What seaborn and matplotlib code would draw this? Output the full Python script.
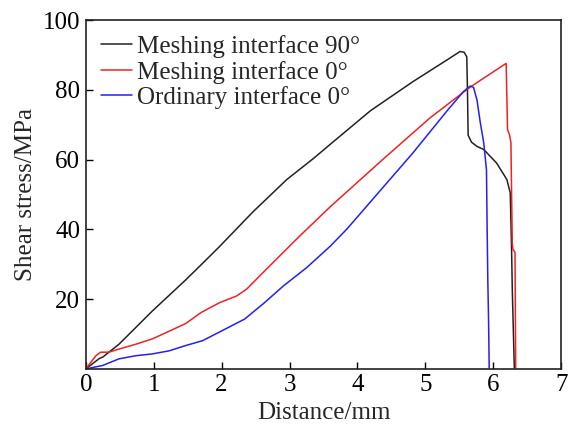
import matplotlib
matplotlib.use("Agg")
import matplotlib.pyplot as plt
import numpy as np
import pandas as pd
import seaborn as sns

mesh90_x = [0.0, 0.1, 0.2, 0.25, 0.49, 0.98, 1.47, 1.68, 1.96, 2.46, 2.96, 3.35, 3.6,
            4.19, 4.82, 5.32, 5.51, 5.57, 5.61, 5.62, 5.63, 5.68, 5.76, 5.86, 6.05,
            6.2, 6.25, 6.27, 6.28, 6.3, 6.31]
mesh90_y = [0.0, 1.5, 3.0, 3.4, 7.1, 16.6, 25.5, 29.5, 34.9, 45.0, 54.3, 60.3, 64.4,
            74.0, 82.4, 88.6, 91.0, 90.8, 89.5, 80.0, 67.0, 65.0, 63.8, 62.9, 59.0,
            54.3, 50.5, 34.0, 22.9, 7.6, 0.3]

mesh0_x = [0.0, 0.15, 0.22, 0.34, 0.49, 0.74, 0.98, 1.47, 1.7, 1.97, 2.22, 2.37, 2.66,
           3.15, 3.6, 4.33, 5.07, 5.66, 6.19, 6.2, 6.21, 6.24, 6.26, 6.27, 6.28, 6.29,
           6.32, 6.33]
mesh0_y = [0.0, 3.8, 4.8, 4.8, 5.7, 7.1, 8.6, 13.0, 16.2, 19.0, 20.9, 22.9, 28.6,
           38.1, 46.5, 59.3, 72.0, 80.8, 87.6, 78.0, 68.6, 67.1, 64.8, 50.0, 36.0, 34.3,
           33.4, 0.3]

ord0_x = [0.0, 0.25, 0.49, 0.74, 0.98, 1.23, 1.47, 1.72, 1.96, 2.21, 2.34, 2.62, 2.91,
          3.25, 3.6, 3.84, 4.33, 4.82, 5.07, 5.32, 5.56, 5.66, 5.71, 5.76, 5.81, 5.86,
          5.9, 5.91, 5.92, 5.93, 5.94]
ord0_y = [0.0, 1.0, 2.9, 3.8, 4.3, 5.2, 6.7, 8.1, 10.5, 13.0, 14.3, 18.8, 23.8,
          29.0, 35.2, 40.0, 51.0, 62.0, 68.0, 74.0, 79.5, 81.1, 80.7, 77.1, 70.5, 64.8,
          57.1, 40.0, 25.0, 15.0, 0.3]

labels = ["Meshing interface 90\u00b0", "Meshing interface 0\u00b0", "Ordinary interface 0\u00b0"]
colors = ["#222222", "#ee2222", "#2222ee"]

frames = []
for lab, xs, ys in zip(labels, [mesh90_x, mesh0_x, ord0_x], [mesh90_y, mesh0_y, ord0_y]):
    d = pd.DataFrame({"x": xs, "y": ys})
    d["curve"] = lab
    frames.append(d)
data = pd.concat(frames, ignore_index=True)

sns.set_style("ticks")
plt.rcParams["font.family"] = ["Liberation Serif", "DejaVu Serif"]

fig = plt.figure(figsize=(5.68, 4.28), dpi=100)
ax = fig.add_axes([0.151, 0.138, 0.837, 0.815])

sns.lineplot(data=data, x="x", y="y", hue="curve", palette=colors, sort=False,
             estimator=None, units="curve", linewidth=1.1, ax=ax)

ax.set_xlim(0, 7)
ax.set_ylim(0, 100)
ax.set_xticks(range(0, 8))
ax.set_yticks([20, 40, 60, 80, 100])
ax.tick_params(direction="in", length=5, width=1, labelsize=18, colors="black", pad=4)
for s in ax.spines.values():
    s.set_visible(True)
    s.set_linewidth(1.2)
    s.set_color("#222222")
ax.set_xlabel("Distance/mm", fontsize=18, labelpad=4)
ax.set_ylabel("Shear stress/MPa", fontsize=18, labelpad=4)

ax.legend(loc="upper left", frameon=False, fontsize=18, handlelength=1.25,
          handletextpad=0.2, labelspacing=0.1, borderaxespad=0.2,
          bbox_to_anchor=(0.0, 1.0))

fig.savefig("out.png", dpi=100)
